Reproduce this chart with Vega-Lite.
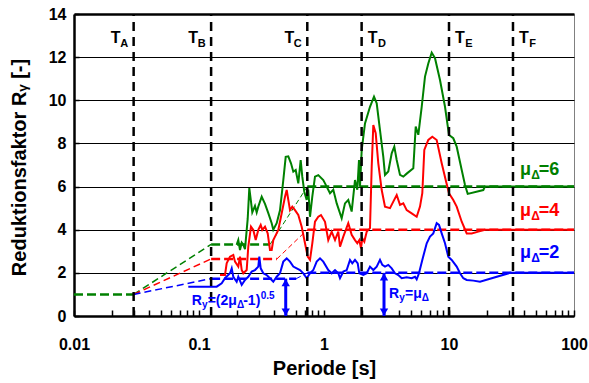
{
  "$schema": "https://vega.github.io/schema/vega-lite/v6.json",
  "width": 500,
  "height": 302,
  "autosize": {"type": "none"},
  "padding": {"left": 74, "top": 14, "right": 15, "bottom": 67},
  "background": "white",
  "config": {
    "view": {"stroke": "#808080", "strokeWidth": 1},
    "text": {"font": "Liberation Sans", "fontWeight": "bold", "baseline": "alphabetic", "align": "left"}
  },
  "datasets": {
    "curves": [
      {"s":"6","x":0.2,"y":3.3},{"s":"6","x":0.2062,"y":3.52},{"s":"6","x":0.2128,"y":3.06},{"s":"6","x":0.2196,"y":3.4},{"s":"6","x":0.2262,"y":3.3},{"s":"6","x":0.2333,"y":3.1},{"s":"6","x":0.2452,"y":4.5},{"s":"6","x":0.2526,"y":5.93},{"s":"6","x":0.2606,"y":5.3},{"s":"6","x":0.2669,"y":4.8},{"s":"6","x":0.2805,"y":5.1},{"s":"6","x":0.2894,"y":4.8},{"s":"6","x":0.2981,"y":5.07},{"s":"6","x":0.3174,"y":5.53},{"s":"6","x":0.3373,"y":5.2},{"s":"6","x":0.3584,"y":4.77},{"s":"6","x":0.3815,"y":4.3},{"s":"6","x":0.393,"y":4.0},{"s":"6","x":0.4183,"y":4.3},{"s":"6","x":0.4446,"y":4.9},{"s":"6","x":0.4725,"y":6.3},{"s":"6","x":0.4939,"y":7.38},{"s":"6","x":0.5181,"y":7.4},{"s":"6","x":0.5445,"y":7.08},{"s":"6","x":0.5681,"y":6.69},{"s":"6","x":0.5937,"y":6.77},{"s":"6","x":0.6228,"y":6.15},{"s":"6","x":0.6509,"y":7.23},{"s":"6","x":0.6704,"y":6.46},{"s":"6","x":0.6955,"y":5.76},{"s":"6","x":0.7269,"y":5.38},{"s":"6","x":0.7487,"y":5.86},{"s":"6","x":0.7727,"y":4.6},{"s":"6","x":0.8061,"y":5.53},{"s":"6","x":0.8472,"y":6.46},{"s":"6","x":0.9004,"y":6.53},{"s":"6","x":0.987,"y":6.3},{"s":"6","x":1.019,"y":6.15},{"s":"6","x":1.117,"y":5.69},{"s":"6","x":1.187,"y":5.85},{"s":"6","x":1.264,"y":5.22},{"s":"6","x":1.385,"y":4.53},{"s":"6","x":1.472,"y":5.22},{"s":"6","x":1.564,"y":5.38},{"s":"6","x":1.665,"y":4.84},{"s":"6","x":1.77,"y":6.3},{"s":"6","x":1.847,"y":5.85},{"s":"6","x":1.905,"y":7.23},{"s":"6","x":1.941,"y":6.0},{"s":"6","x":2.003,"y":7.7},{"s":"6","x":2.128,"y":8.93},{"s":"6","x":2.333,"y":9.7},{"s":"6","x":2.512,"y":10.17},{"s":"6","x":2.64,"y":9.86},{"s":"6","x":2.805,"y":8.62},{"s":"6","x":2.982,"y":7.38},{"s":"6","x":3.076,"y":6.54},{"s":"6","x":3.268,"y":6.7},{"s":"6","x":3.48,"y":7.54},{"s":"6","x":3.651,"y":7.85},{"s":"6","x":3.816,"y":7.23},{"s":"6","x":4.055,"y":6.54},{"s":"6","x":4.309,"y":6.46},{"s":"6","x":4.587,"y":6.6},{"s":"6","x":5.182,"y":6.85},{"s":"6","x":5.416,"y":8.78},{"s":"6","x":5.682,"y":8.4},{"s":"6","x":6.048,"y":9.7},{"s":"6","x":6.427,"y":11.1},{"s":"6","x":6.829,"y":11.71},{"s":"6","x":7.271,"y":12.21},{"s":"6","x":7.727,"y":11.95},{"s":"6","x":8.472,"y":10.94},{"s":"6","x":9.29,"y":9.7},{"s":"6","x":10,"y":8.39},{"s":"6","x":10.82,"y":8.24},{"s":"6","x":11.52,"y":7.85},{"s":"6","x":12.64,"y":6.77},{"s":"6","x":13.43,"y":6.07},{"s":"6","x":14.11,"y":5.66},{"s":"6","x":18.81,"y":5.84},{"s":"6","x":19.41,"y":6.0},{"s":"6","x":100,"y":6},
      {"s":"4","x":0.1472,"y":1.9},{"s":"4","x":0.1614,"y":1.9},{"s":"4","x":0.1665,"y":2.44},{"s":"4","x":0.177,"y":2.75},{"s":"4","x":0.1881,"y":2.83},{"s":"4","x":0.1941,"y":2.52},{"s":"4","x":0.2062,"y":2.29},{"s":"4","x":0.2128,"y":2.75},{"s":"4","x":0.2196,"y":2.13},{"s":"4","x":0.2262,"y":1.98},{"s":"4","x":0.2407,"y":2.13},{"s":"4","x":0.2479,"y":3.21},{"s":"4","x":0.2606,"y":4.14},{"s":"4","x":0.2719,"y":3.99},{"s":"4","x":0.2842,"y":3.52},{"s":"4","x":0.2981,"y":3.99},{"s":"4","x":0.3116,"y":4.22},{"s":"4","x":0.3209,"y":3.99},{"s":"4","x":0.3373,"y":4.14},{"s":"4","x":0.3544,"y":3.83},{"s":"4","x":0.3698,"y":3.06},{"s":"4","x":0.3815,"y":3.06},{"s":"4","x":0.393,"y":3.52},{"s":"4","x":0.4055,"y":3.68},{"s":"4","x":0.4309,"y":3.99},{"s":"4","x":0.4587,"y":4.76},{"s":"4","x":0.4875,"y":5.53},{"s":"4","x":0.503,"y":5.84},{"s":"4","x":0.5181,"y":5.38},{"s":"4","x":0.5346,"y":4.91},{"s":"4","x":0.5577,"y":5.07},{"s":"4","x":0.5861,"y":4.91},{"s":"4","x":0.6228,"y":4.68},{"s":"4","x":0.663,"y":4.14},{"s":"4","x":0.7047,"y":3.37},{"s":"4","x":0.7406,"y":2.75},{"s":"4","x":0.7727,"y":2.6},{"s":"4","x":0.8061,"y":3.37},{"s":"4","x":0.8472,"y":4.37},{"s":"4","x":0.9004,"y":4.6},{"s":"4","x":0.9462,"y":4.68},{"s":"4","x":1.019,"y":4.37},{"s":"4","x":1.082,"y":3.52},{"s":"4","x":1.152,"y":3.91},{"s":"4","x":1.225,"y":3.52},{"s":"4","x":1.301,"y":3.91},{"s":"4","x":1.343,"y":3.21},{"s":"4","x":1.427,"y":3.68},{"s":"4","x":1.564,"y":4.3},{"s":"4","x":1.665,"y":3.76},{"s":"4","x":1.77,"y":3.52},{"s":"4","x":1.847,"y":3.37},{"s":"4","x":1.916,"y":3.52},{"s":"4","x":1.977,"y":3.14},{"s":"4","x":2.025,"y":3.6},{"s":"4","x":2.101,"y":3.45},{"s":"4","x":2.196,"y":3.91},{"s":"4","x":2.333,"y":4.07},{"s":"4","x":2.408,"y":6.92},{"s":"4","x":2.48,"y":8.85},{"s":"4","x":2.592,"y":8.47},{"s":"4","x":2.719,"y":7.08},{"s":"4","x":2.895,"y":5.84},{"s":"4","x":3.076,"y":5.07},{"s":"4","x":3.373,"y":5.0},{"s":"4","x":3.584,"y":5.3},{"s":"4","x":3.816,"y":5.61},{"s":"4","x":4.055,"y":5.15},{"s":"4","x":4.309,"y":5.22},{"s":"4","x":4.587,"y":4.91},{"s":"4","x":5.03,"y":4.76},{"s":"4","x":5.515,"y":4.6},{"s":"4","x":5.861,"y":5.07},{"s":"4","x":6.115,"y":5.69},{"s":"4","x":6.345,"y":7.7},{"s":"4","x":6.829,"y":8.16},{"s":"4","x":7.352,"y":8.31},{"s":"4","x":7.97,"y":8.16},{"s":"4","x":8.742,"y":7.08},{"s":"4","x":9.41,"y":6.3},{"s":"4","x":10,"y":5.69},{"s":"4","x":10.82,"y":5.38},{"s":"4","x":11.52,"y":5.07},{"s":"4","x":12.64,"y":4.37},{"s":"4","x":13.86,"y":3.83},{"s":"4","x":15.19,"y":3.83},{"s":"4","x":17.15,"y":3.91},{"s":"4","x":19.4,"y":4.0},{"s":"4","x":100,"y":4},
      {"s":"2","x":0.0821,"y":1.36},{"s":"2","x":0.1385,"y":1.36},{"s":"2","x":0.1519,"y":1.52},{"s":"2","x":0.1614,"y":1.75},{"s":"2","x":0.177,"y":1.98},{"s":"2","x":0.1827,"y":2.21},{"s":"2","x":0.1881,"y":1.82},{"s":"2","x":0.2002,"y":1.59},{"s":"2","x":0.2062,"y":1.82},{"s":"2","x":0.2196,"y":1.44},{"s":"2","x":0.2333,"y":1.67},{"s":"2","x":0.2479,"y":1.82},{"s":"2","x":0.264,"y":2.06},{"s":"2","x":0.2805,"y":2.13},{"s":"2","x":0.2981,"y":2.29},{"s":"2","x":0.3038,"y":2.75},{"s":"2","x":0.3116,"y":2.21},{"s":"2","x":0.3269,"y":1.98},{"s":"2","x":0.3479,"y":1.9},{"s":"2","x":0.3698,"y":1.75},{"s":"2","x":0.393,"y":1.59},{"s":"2","x":0.4183,"y":1.82},{"s":"2","x":0.4446,"y":1.98},{"s":"2","x":0.4725,"y":2.52},{"s":"2","x":0.503,"y":2.67},{"s":"2","x":0.5346,"y":2.52},{"s":"2","x":0.5681,"y":2.29},{"s":"2","x":0.6047,"y":2.21},{"s":"2","x":0.6427,"y":2.13},{"s":"2","x":0.683,"y":1.98},{"s":"2","x":0.7269,"y":1.75},{"s":"2","x":0.7727,"y":1.98},{"s":"2","x":0.8211,"y":2.13},{"s":"2","x":0.8741,"y":2.52},{"s":"2","x":0.929,"y":2.67},{"s":"2","x":0.987,"y":2.52},{"s":"2","x":1.082,"y":2.13},{"s":"2","x":1.152,"y":1.98},{"s":"2","x":1.225,"y":2.13},{"s":"2","x":1.301,"y":1.98},{"s":"2","x":1.343,"y":1.75},{"s":"2","x":1.427,"y":2.06},{"s":"2","x":1.519,"y":2.13},{"s":"2","x":1.614,"y":2.6},{"s":"2","x":1.684,"y":2.44},{"s":"2","x":1.77,"y":2.6},{"s":"2","x":1.861,"y":2.44},{"s":"2","x":1.916,"y":1.98},{"s":"2","x":2.063,"y":1.9},{"s":"2","x":2.196,"y":1.98},{"s":"2","x":2.333,"y":2.29},{"s":"2","x":2.48,"y":2.13},{"s":"2","x":2.64,"y":2.29},{"s":"2","x":2.805,"y":2.6},{"s":"2","x":2.927,"y":2.37},{"s":"2","x":3.076,"y":2.29},{"s":"2","x":3.268,"y":2.37},{"s":"2","x":3.48,"y":2.21},{"s":"2","x":3.698,"y":1.98},{"s":"2","x":3.93,"y":1.9},{"s":"2","x":4.183,"y":1.75},{"s":"2","x":4.587,"y":1.79},{"s":"2","x":5.03,"y":1.75},{"s":"2","x":5.346,"y":1.82},{"s":"2","x":5.515,"y":1.7},{"s":"2","x":5.754,"y":1.98},{"s":"2","x":6.115,"y":2.6},{"s":"2","x":6.633,"y":3.37},{"s":"2","x":7.047,"y":3.68},{"s":"2","x":7.489,"y":3.83},{"s":"2","x":7.97,"y":4.3},{"s":"2","x":8.318,"y":4.22},{"s":"2","x":8.742,"y":3.83},{"s":"2","x":9.29,"y":3.37},{"s":"2","x":9.872,"y":2.75},{"s":"2","x":10.51,"y":2.6},{"s":"2","x":11.52,"y":2.29},{"s":"2","x":12.25,"y":1.98},{"s":"2","x":13.02,"y":1.75},{"s":"2","x":13.86,"y":1.67},{"s":"2","x":15.65,"y":1.64},{"s":"2","x":17.7,"y":1.59},{"s":"2","x":30.76,"y":2.0},{"s":"2","x":100,"y":2}
    ],
    "design": [
      {"s":"6","part":"flat0","x":0.01,"y":1},{"s":"6","part":"flat0","x":0.03,"y":1},
      {"s":"6","part":"rise1","x":0.03,"y":1},{"s":"6","part":"rise1","x":0.125,"y":3.317},
      {"s":"6","part":"flat1","x":0.125,"y":3.317},{"s":"6","part":"flat1","x":0.37,"y":3.317},
      {"s":"6","part":"rise2","x":0.37,"y":3.317},{"s":"6","part":"rise2","x":0.735,"y":6},
      {"s":"6","part":"flat2","x":0.735,"y":6},{"s":"6","part":"flat2","x":100,"y":6},
      {"s":"4","part":"rise1","x":0.03,"y":1},{"s":"4","part":"rise1","x":0.125,"y":2.646},
      {"s":"4","part":"flat1","x":0.125,"y":2.646},{"s":"4","part":"flat1","x":0.42,"y":2.646},
      {"s":"4","part":"rise2","x":0.42,"y":2.646},{"s":"4","part":"rise2","x":0.735,"y":4},
      {"s":"4","part":"flat2","x":0.735,"y":4},{"s":"4","part":"flat2","x":100,"y":4},
      {"s":"2","part":"rise1","x":0.03,"y":1},{"s":"2","part":"rise1","x":0.125,"y":1.732},
      {"s":"2","part":"flat1","x":0.125,"y":1.732},{"s":"2","part":"flat1","x":0.6,"y":1.732},
      {"s":"2","part":"rise2","x":0.6,"y":1.732},{"s":"2","part":"rise2","x":0.735,"y":2},
      {"s":"2","part":"flat2","x":0.735,"y":2},{"s":"2","part":"flat2","x":100,"y":2}
    ],
    "periods": [
      {"x":0.03,"sub":"A"},{"x":0.125,"sub":"B"},{"x":0.735,"sub":"C"},
      {"x":2,"sub":"D"},{"x":10,"sub":"E"},{"x":32.5,"sub":"F"}
    ],
    "arrows": [
      {"x":0.494,"y":0,"y2":1.732},{"x":3.02,"y":0,"y2":2}
    ],
    "mu": [
      {"s":"6","x":37,"y":6.54,"eq":"=6"},{"s":"4","x":37,"y":4.64,"eq":"=4"},{"s":"2","x":37,"y":2.69,"eq":"=2"}
    ],
    "anno": [
      {"k":"a","x":0.0874,"y":0.51},{"k":"b","x":3.31,"y":0.83}
    ]
  },
  "encoding": {
    "x": {
      "field": "x", "type": "quantitative",
      "scale": {"type": "log", "domain": [0.01, 100], "nice": false},
      "axis": {
        "values": [0.01,0.02,0.03,0.04,0.05,0.06,0.07,0.08,0.09,0.1,0.2,0.3,0.4,0.5,0.6,0.7,0.8,0.9,1,2,3,4,5,6,7,8,9,10,20,30,40,50,60,70,80,90,100],
        "format": "~g",
        "labelExpr": "indexof([0.01,0.1,1,10,100], datum.value) >= 0 ? datum.label : ''",
        "grid": false,
        "tickSize": -6, "tickWidth": 1.5, "tickColor": "black",
        "domainColor": "black", "domainWidth": 2.5,
        "labelFont": "Liberation Sans", "labelFontWeight": "bold", "labelFontSize": 16, "labelColor": "black",
        "labelPadding": 26, "labelFlush": false, "labelOverlap": false,
        "title": "Periode [s]", "titleFont": "Liberation Sans", "titleFontWeight": "bold", "titleFontSize": 20, "titleColor": "black",
        "titleBaseline": "alphabetic", "titleY": 58.5
      }
    }
  },
  "layer": [
    {
      "data": {"name": "design"},
      "transform": [{"filter": "indexof(['flat0','flat1','flat2'], datum.part) >= 0"}],
      "mark": {"type": "line", "strokeWidth": 2.5, "strokeDash": [9, 4]},
      "encoding": {
        "y": {
          "field": "y", "type": "quantitative",
          "scale": {"domain": [0, 14], "nice": false},
          "axis": {
            "values": [0,1,2,3,4,5,6,7,8,9,10,11,12,13,14],
            "labelExpr": "datum.value % 2 == 0 ? datum.label : ''",
            "tickSize": -5, "tickWidth": 1.5, "tickColor": "black",
            "domainColor": "black", "domainWidth": 2.5,
            "grid": true, "gridColor": "black",
            "gridWidth": {"condition": {"test": "datum.value == 14", "value": 2.5}, "value": 1},
            "gridOpacity": {"condition": {"test": "datum.value % 2 == 1", "value": 0}, "value": 1},
            "labelFont": "Liberation Sans", "labelFontWeight": "bold", "labelFontSize": 16, "labelColor": "black",
            "labelPadding": 13,
            "title": "Reduktionsfaktor Rᵧ [-]", "titleFont": "Liberation Sans", "titleFontWeight": "bold", "titleFontSize": 20, "titleColor": "black",
            "titleBaseline": "alphabetic", "titleX": -49, "titleY": 153
          }
        },
        "color": {"field": "s", "type": "nominal", "scale": {"domain": ["6","4","2"], "range": ["#008000","#FF0000","#0000FF"]}, "legend": null},
        "detail": {"field": "part"}
      }
    },
    {
      "data": {"name": "design"},
      "transform": [{"filter": "datum.part == 'rise1'"}],
      "mark": {"type": "line", "strokeWidth": 1.5, "strokeDash": [7, 4]},
      "encoding": {
        "y": {"field": "y", "type": "quantitative"},
        "color": {"field": "s", "type": "nominal", "legend": null}
      }
    },
    {
      "data": {"name": "design"},
      "transform": [{"filter": "datum.part == 'rise2'"}],
      "mark": {"type": "line", "strokeWidth": 1, "strokeDash": [5, 3]},
      "encoding": {
        "y": {"field": "y", "type": "quantitative"},
        "color": {"field": "s", "type": "nominal", "legend": null}
      }
    },
    {
      "data": {"name": "curves"},
      "transform": [{"filter": "datum.s == '6'"}],
      "mark": {"type": "line", "strokeWidth": 2, "color": "#008000"},
      "encoding": {"y": {"field": "y", "type": "quantitative"}}
    },
    {
      "data": {"name": "curves"},
      "transform": [{"filter": "datum.s == '4'"}],
      "mark": {"type": "line", "strokeWidth": 2, "color": "#FF0000"},
      "encoding": {"y": {"field": "y", "type": "quantitative"}}
    },
    {
      "data": {"name": "curves"},
      "transform": [{"filter": "datum.s == '2'"}],
      "mark": {"type": "line", "strokeWidth": 2, "color": "#0000FF"},
      "encoding": {"y": {"field": "y", "type": "quantitative"}}
    },
    {
      "data": {"name": "periods"},
      "mark": {"type": "rule", "color": "black", "strokeWidth": 2.5, "strokeDash": [9, 6]},
      "encoding": {"y": {"datum": 0, "type": "quantitative"}, "y2": {"datum": 14}}
    },
    {
      "data": {"name": "arrows"},
      "mark": {"type": "rule", "color": "#0000FF", "strokeWidth": 3},
      "encoding": {"y": {"field": "y", "type": "quantitative"}, "y2": {"field": "y2"}}
    },
    {
      "data": {"name": "arrows"},
      "mark": {"type": "point", "shape": "triangle-up", "filled": true, "size": 70, "color": "#0000FF", "opacity": 1, "yOffset": 4},
      "encoding": {"y": {"field": "y2", "type": "quantitative"}}
    },
    {
      "data": {"name": "arrows"},
      "mark": {"type": "point", "shape": "triangle-down", "filled": true, "size": 70, "color": "#0000FF", "opacity": 1, "yOffset": -4},
      "encoding": {"y": {"field": "y", "type": "quantitative"}}
    },
    {
      "data": {"name": "periods"},
      "transform": [{"filter": "datum.x < 1"}],
      "mark": {"type": "text", "text": "T", "fontSize": 16, "align": "right", "dx": -13, "color": "black"},
      "encoding": {"y": {"datum": 12.64, "type": "quantitative"}}
    },
    {
      "data": {"name": "periods"},
      "transform": [{"filter": "datum.x < 1"}],
      "mark": {"type": "text", "fontSize": 11, "align": "right", "dx": -5.5, "dy": 4, "color": "black"},
      "encoding": {"y": {"datum": 12.64, "type": "quantitative"}, "text": {"field": "sub"}}
    },
    {
      "data": {"name": "periods"},
      "transform": [{"filter": "datum.x > 1"}],
      "mark": {"type": "text", "text": "T", "fontSize": 16, "align": "left", "dx": 6, "color": "black"},
      "encoding": {"y": {"datum": 12.64, "type": "quantitative"}}
    },
    {
      "data": {"name": "periods"},
      "transform": [{"filter": "datum.x > 1"}],
      "mark": {"type": "text", "fontSize": 11, "align": "left", "dx": 16.3, "dy": 4, "color": "black"},
      "encoding": {"y": {"datum": 12.64, "type": "quantitative"}, "text": {"field": "sub"}}
    },
    {
      "data": {"name": "mu"},
      "mark": {"type": "text", "text": "μ", "fontSize": 18},
      "encoding": {"y": {"field": "y", "type": "quantitative"}, "color": {"field": "s", "type": "nominal", "legend": null}}
    },
    {
      "data": {"name": "mu"},
      "mark": {"type": "text", "text": "Δ", "fontSize": 12, "dx": 11.2, "dy": 4},
      "encoding": {"y": {"field": "y", "type": "quantitative"}, "color": {"field": "s", "type": "nominal", "legend": null}}
    },
    {
      "data": {"name": "mu"},
      "mark": {"type": "text", "fontSize": 18, "dx": 18.8},
      "encoding": {"y": {"field": "y", "type": "quantitative"}, "color": {"field": "s", "type": "nominal", "legend": null}, "text": {"field": "eq"}}
    },
    {
      "data": {"name": "anno"},
      "mark": {"type": "text", "text": "R", "fontSize": 14, "color": "#0000FF"},
      "encoding": {"y": {"field": "y", "type": "quantitative"}}
    },
    {
      "data": {"name": "anno"},
      "mark": {"type": "text", "text": "y", "fontSize": 10, "dx": 10.3, "dy": 3, "color": "#0000FF"},
      "encoding": {"y": {"field": "y", "type": "quantitative"}}
    },
    {
      "data": {"name": "anno"},
      "transform": [{"filter": "datum.k == 'a'"}],
      "mark": {"type": "text", "text": "=(2μ", "fontSize": 14, "dx": 16, "color": "#0000FF"},
      "encoding": {"y": {"field": "y", "type": "quantitative"}}
    },
    {
      "data": {"name": "anno"},
      "transform": [{"filter": "datum.k == 'a'"}],
      "mark": {"type": "text", "text": "Δ", "fontSize": 10, "dx": 45.3, "dy": 3, "color": "#0000FF"},
      "encoding": {"y": {"field": "y", "type": "quantitative"}}
    },
    {
      "data": {"name": "anno"},
      "transform": [{"filter": "datum.k == 'a'"}],
      "mark": {"type": "text", "text": "-1)", "fontSize": 14, "dx": 51.5, "color": "#0000FF"},
      "encoding": {"y": {"field": "y", "type": "quantitative"}}
    },
    {
      "data": {"name": "anno"},
      "transform": [{"filter": "datum.k == 'a'"}],
      "mark": {"type": "text", "text": "0.5", "fontSize": 10, "dx": 69, "dy": -5.5, "color": "#0000FF"},
      "encoding": {"y": {"field": "y", "type": "quantitative"}}
    },
    {
      "data": {"name": "anno"},
      "transform": [{"filter": "datum.k == 'b'"}],
      "mark": {"type": "text", "text": "=μ", "fontSize": 14, "dx": 16, "color": "#0000FF"},
      "encoding": {"y": {"field": "y", "type": "quantitative"}}
    },
    {
      "data": {"name": "anno"},
      "transform": [{"filter": "datum.k == 'b'"}],
      "mark": {"type": "text", "text": "Δ", "fontSize": 10, "dx": 32.8, "dy": 3, "color": "#0000FF"},
      "encoding": {"y": {"field": "y", "type": "quantitative"}}
    }
  ]
}
